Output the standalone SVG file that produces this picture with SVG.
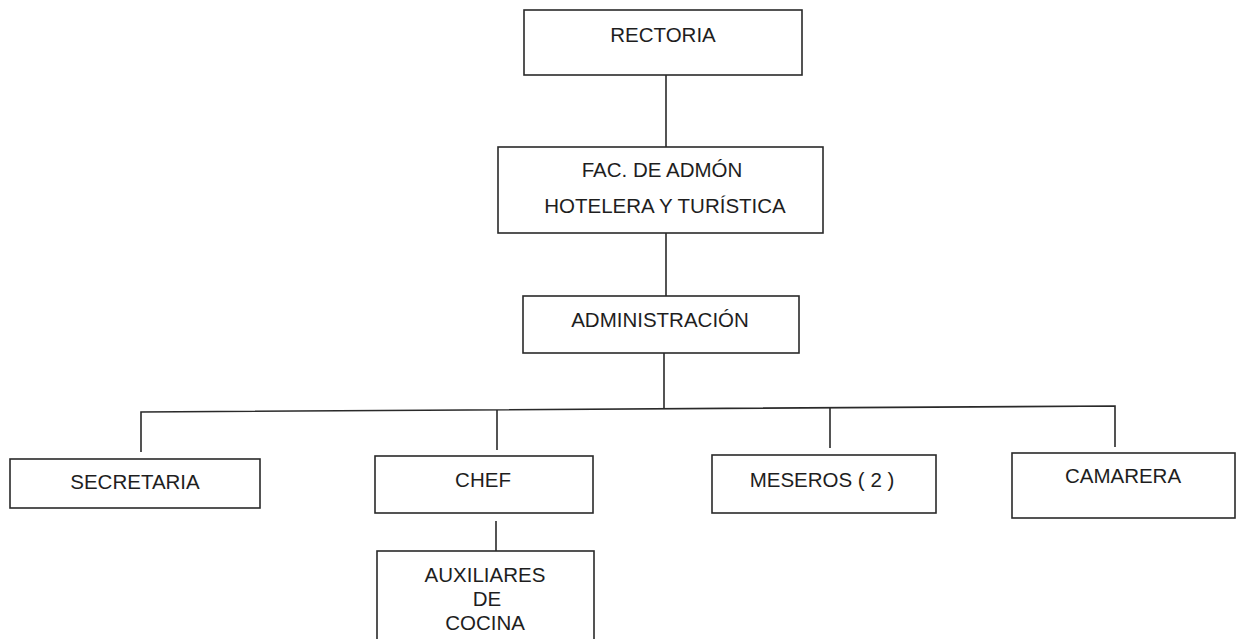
<svg xmlns="http://www.w3.org/2000/svg" width="1241" height="639" viewBox="0 0 1241 639">
<style>
.box{fill:#fff;stroke:#2a2a2a;stroke-width:1.6}
.lbl{font-family:"Liberation Sans",Arial,sans-serif;font-size:20.5px;fill:#1e1e1e;text-anchor:middle}
.con{fill:none;stroke:#2a2a2a;stroke-width:1.6}
</style>
<rect width="1241" height="639" fill="#fff"/>
<g id="connectors">
<line class="con" x1="666" y1="75" x2="666" y2="147"/>
<line class="con" x1="666" y1="233" x2="666" y2="296"/>
<line class="con" x1="664" y1="353" x2="664" y2="409"/>
<polyline class="con" points="141,452 141,412 1115,406 1115,447"/>
<line class="con" x1="497" y1="410" x2="497" y2="450"/>
<line class="con" x1="830" y1="408" x2="830" y2="448"/>
<line class="con" x1="496" y1="521" x2="496" y2="552"/>
</g>
<g id="rectoria">
<rect class="box" x="524" y="10" width="278" height="65"/>
<text class="lbl" x="663" y="42">RECTORIA</text>
</g>
<g id="facultad">
<rect class="box" x="498" y="147" width="325" height="86"/>
<text class="lbl" x="662" y="177">FAC. DE ADMÓN</text>
<text class="lbl" x="665" y="213">HOTELERA Y TURÍSTICA</text>
</g>
<g id="administracion">
<rect class="box" x="523" y="296" width="276" height="57"/>
<text class="lbl" x="660" y="327">ADMINISTRACIÓN</text>
</g>
<g id="secretaria">
<rect class="box" x="10" y="459" width="250" height="49"/>
<text class="lbl" x="135" y="489">SECRETARIA</text>
</g>
<g id="chef">
<rect class="box" x="375" y="456" width="218" height="57"/>
<text class="lbl" x="483" y="487">CHEF</text>
</g>
<g id="meseros">
<rect class="box" x="712" y="455" width="224" height="58"/>
<text class="lbl" x="822" y="487">MESEROS ( 2 )</text>
</g>
<g id="camarera">
<rect class="box" x="1012" y="453" width="223" height="65"/>
<text class="lbl" x="1123" y="483">CAMARERA</text>
</g>
<g id="auxiliares">
<rect class="box" x="377" y="551" width="217" height="100"/>
<text class="lbl" x="485" y="582">AUXILIARES</text>
<text class="lbl" x="487" y="606">DE</text>
<text class="lbl" x="485" y="630">COCINA</text>
</g>
</svg>
